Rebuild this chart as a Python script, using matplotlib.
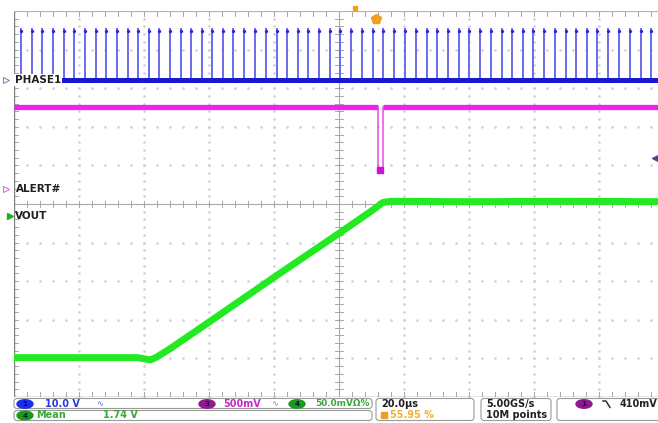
import numpy as np
import matplotlib
matplotlib.use("Agg")
import matplotlib.pyplot as plt
from matplotlib.patches import FancyBboxPatch, Ellipse

# Scope capture: time in microseconds (20 us/div), amplitude in divisions from centre
# PHASE1 switch node pulses (times of each pulse)
phase_pulse_t = [-97.8, -94.6, -91.3, -87.9, -84.5, -81.5, -78.2, -74.9, -71.7, -68.4,
                 -65.0, -61.8, -58.5, -55.3, -52.0, -48.7, -45.5, -42.2, -39.0, -35.8,
                 -32.5, -29.1, -25.8, -22.6, -19.2, -15.9, -12.7, -9.4, -6.2, -2.9,
                 0.3, 3.7, 7.2, 10.4, 13.6, 17.0, 20.3, 23.7, 27.0, 30.2,
                 33.6, 36.9, 40.1, 43.4, 46.7, 50.1, 53.3, 56.5, 59.8, 63.1,
                 66.5, 69.8, 72.9, 76.2, 79.5, 82.9, 86.2, 89.5, 92.8, 96.0]
phase_low = 3.21
phase_high = 4.55

# ALERT# trace
alert_t = [-100, 11.9, 11.9, 13.6, 13.6, 100]
alert_y = [2.50, 2.50, 0.84, 0.84, 2.50, 2.50]

# VOUT soft-start ramp
vout_t = [-100, -62, -58, -56, -52, -40, -20, 0, 10, 13.5, 16, 40, 70, 100]
vout_y = [-3.98, -3.98, -4.04, -3.96, -3.75, -3.06, -1.90, -0.76, -0.18, 0.04, 0.07, 0.06, 0.07, 0.06]

W, H = 658, 423
fig = plt.figure(figsize=(W / 100, H / 100), dpi=100)
fig.patch.set_facecolor("white")

# graticule area: left edge 14 px, 65 px/div, top 11 px, bottom 397 px
ax = fig.add_axes([14 / W, 26 / H, 650 / W, 386 / H])
ax.set_xlim(-100, 100)
ax.set_ylim(-5, 5)
ax.axis("off")

# dotted graticule
dcol = "#d2d2d2"
for gx in range(-80, 81, 20):
    if gx == 0:
        continue
    ys = np.arange(-5, 5.01, 0.2)
    ax.plot([gx] * len(ys), ys, ls="none", marker="o", ms=0.9, color=dcol, zorder=1)
for gy in range(-4, 5):
    if gy == 0:
        continue
    xs = np.arange(-100, 100.01, 4)
    ax.plot(xs, [gy] * len(xs), ls="none", marker="o", ms=0.9, color=dcol, zorder=1)

# centre lines and border with minor ticks
gcol = "#a8a8a8"
ax.axhline(0, color=gcol, lw=0.8, zorder=1)
ax.axvline(0, color=gcol, lw=0.8, zorder=1)
for tx in np.arange(-100, 100.01, 4):
    ax.plot([tx, tx], [-0.09, 0.09], color=gcol, lw=0.7, zorder=1)
    ax.plot([tx, tx], [-5, -4.88], color=gcol, lw=0.7, zorder=1)
    ax.plot([tx, tx], [5, 4.88], color=gcol, lw=0.7, zorder=1)
for ty in np.arange(-5, 5.01, 0.2):
    ax.plot([-1.2, 1.2], [ty, ty], color=gcol, lw=0.7, zorder=1)
    ax.plot([-100, -98.8], [ty, ty], color=gcol, lw=0.7, zorder=1)
ax.plot([-100, -100], [-5, 5], color="#808080", lw=1.0, zorder=1)
ax.plot([-100, 100], [-5, -5], color="#808080", lw=1.0, zorder=1)
ax.plot([-100, 100], [5, 5], color="#b0b0b0", lw=0.8, zorder=1)

# PHASE1
ax.vlines(phase_pulse_t, phase_low, phase_high, color="#6a6af2", lw=1.4, zorder=3)
ax.plot(phase_pulse_t, [phase_high - 0.08] * len(phase_pulse_t), ls="none",
        marker="o", ms=1.4, color="#2a2ad0", zorder=4)
ax.plot([-100, 100], [phase_low, phase_low], color="#1818d0", lw=3.6,
        solid_capstyle="butt", zorder=4)

# ALERT#
ax.plot(alert_t[:2], alert_y[:2], color="#ee22ee", lw=3.8, solid_capstyle="butt", zorder=3)
ax.plot(alert_t[1:5], alert_y[1:5], color="#e050e0", lw=1.1, zorder=3)
ax.plot(alert_t[4:], alert_y[4:], color="#ee22ee", lw=3.8, solid_capstyle="butt", zorder=3)
ax.plot([(alert_t[2] + alert_t[3]) / 2], [alert_y[2] + 0.05], marker="s", ms=4,
        color="#d010d0", zorder=4)

# VOUT
ax.plot(vout_t, vout_y, color="#22ea22", lw=5, solid_joinstyle="round", zorder=3)

# overlay in pixel coordinates for labels and status bar
ov = fig.add_axes([0, 0, 1, 1])
ov.set_xlim(0, W)
ov.set_ylim(H, 0)
ov.axis("off")
ov.patch.set_alpha(0)

lab = dict(fontsize=7.5, fontweight="bold", color="#202020", va="center", ha="left",
           family="DejaVu Sans")
ov.text(15, 80, "PHASE1", bbox=dict(fc="white", ec="none", pad=0.6), **lab)
ov.plot(6, 80, marker=">", ms=5, mfc="none", mec="#8888bb", mew=0.8)
ov.text(16, 189, "ALERT#", **lab)
ov.plot(6, 189, marker=">", ms=5, mfc="none", mec="#e070e0", mew=0.8)
ov.text(15, 216, "VOUT", **lab)
ov.plot(10, 216, marker=">", ms=5, color="#20b020")

# trigger markers
ov.plot(355, 8, marker="s", ms=3, color="#f0a020")
ov.plot(376, 19, marker="p", ms=7, color="#f0a020")
ov.plot(655, 158, marker="<", ms=4, color="#6a3a8a")


def box(x, y, w, h):
    ov.add_patch(FancyBboxPatch((x, y), w, h, boxstyle="round,pad=0,rounding_size=3",
                                fc="white", ec="#9a9a9a", lw=0.8))


def oval(cx, cy, col, txt):
    ov.add_patch(Ellipse((cx, cy), 16, 8.5, color=col))
    ov.text(cx, cy + 0.3, txt, fontsize=5, color="#101040", ha="center", va="center",
            fontweight="bold")


st = dict(fontsize=7, fontweight="bold", va="center", ha="left", family="DejaVu Sans")
box(14, 398.5, 358, 10)
box(14, 410.5, 358, 10)
box(376, 398.5, 98, 22)
box(481, 398.5, 70, 22)
box(557, 398.5, 110, 22)

oval(25, 404, "#1c2ee8", "1")
ov.text(45, 404, "10.0 V", color="#2a3ad8", **st)
ov.text(96, 404, "\u223f", color="#5a6ae0", fontsize=6, va="center")
oval(207, 404, "#8e1a8e", "3")
ov.text(223, 404, "500mV", color="#c828c8", **st)
ov.text(271, 404, "\u223f", color="#c060c0", fontsize=6, va="center")
oval(297, 404, "#1a9a1a", "4")
ov.text(315, 404, "50.0mV\u03a9%", color="#38a838", fontsize=6.4, fontweight="bold",
        va="center", ha="left")
oval(25, 415.5, "#1a9a1a", "4")
ov.text(36, 415.5, "Mean", color="#38a838", **st)
ov.text(103, 415.5, "1.74 V", color="#38a838", **st)

ov.text(381, 404, "20.0\u00b5s", color="#202020", **st)
ov.plot(384, 415.5, marker="s", ms=4, color="#f0a020")
ov.text(390, 415.5, "55.95 %", color="#f0b030", **st)
ov.text(486, 404, "5.00GS/s", color="#202020", **st)
ov.text(486, 415.5, "10M points", color="#202020", **st)
oval(584, 404, "#8e1a8e", "1")
ov.plot([603, 606, 610], [401, 401, 407.5], color="#202020", lw=1)
ov.text(620, 404, "410mV", color="#202020", **st)

fig.savefig("out.png", dpi=100, facecolor="white")
